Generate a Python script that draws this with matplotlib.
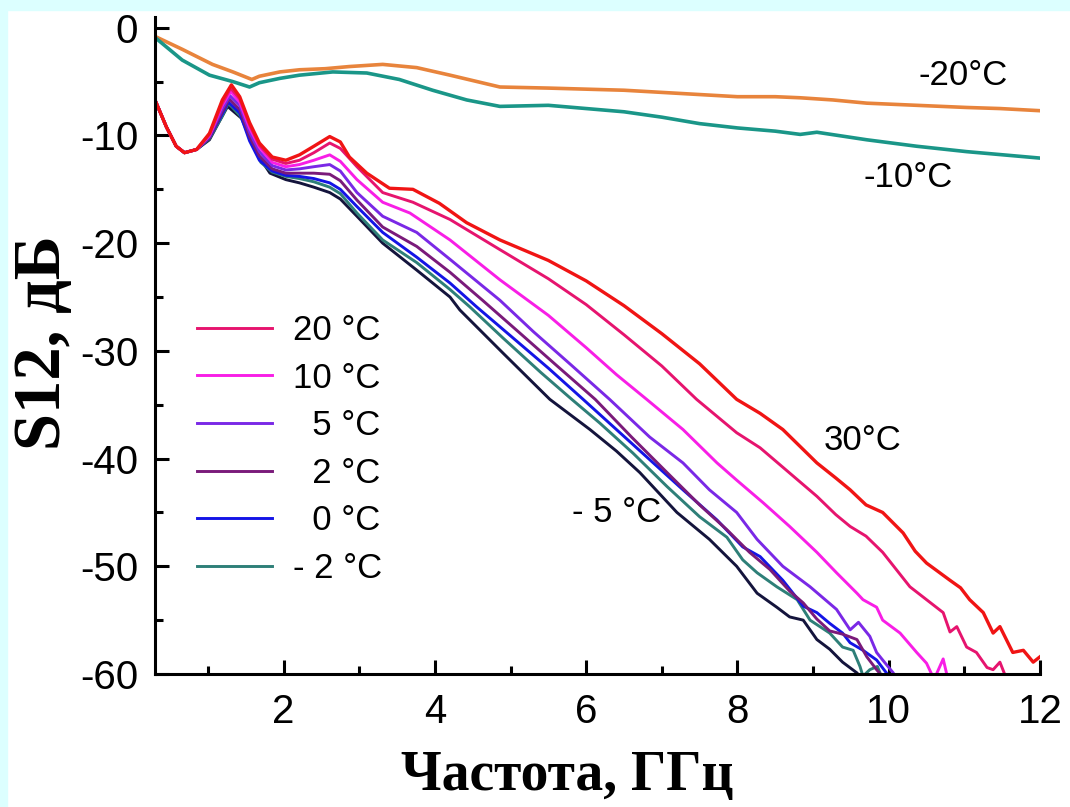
import matplotlib
matplotlib.use("Agg")
import matplotlib.pyplot as plt
from matplotlib.patches import Rectangle
from matplotlib.ticker import MultipleLocator

plt.rcParams['font.family'] = ['Liberation Sans', 'DejaVu Sans']
plt.rcParams['axes.unicode_minus'] = False

# ---- data (GHz, dB) ----
f_m20 = [0.3, 0.66, 1.06, 1.33, 1.58, 1.68, 1.95, 2.21, 2.55, 2.87, 3.31, 3.76, 4.2, 4.86,
         5.5, 6.0, 6.5, 7.0, 7.5, 8.0, 8.5, 8.83, 9.26, 9.71, 10.37, 11.03, 11.47, 12.0]
s_m20 = [-0.8, -2.0, -3.4, -4.1, -4.8, -4.5, -4.1, -3.9, -3.8, -3.6, -3.4, -3.7, -4.4, -5.5,
         -5.6, -5.7, -5.8, -6.0, -6.2, -6.4, -6.4, -6.5, -6.7, -7.0, -7.2, -7.4, -7.5, -7.7]

f_m10 = [0.3, 0.66, 1.02, 1.33, 1.55, 1.68, 1.95, 2.21, 2.65, 3.1, 3.53, 3.97, 4.42, 4.86,
         5.5, 6.0, 6.5, 7.0, 7.5, 8.0, 8.5, 8.83, 9.05, 9.71, 10.37, 11.03, 12.0]
s_m10 = [-0.9, -3.0, -4.4, -5.0, -5.5, -5.1, -4.7, -4.4, -4.1, -4.2, -4.8, -5.8, -6.7, -7.3,
         -7.2, -7.5, -7.8, -8.3, -8.9, -9.3, -9.6, -9.9, -9.7, -10.4, -11.0, -11.5, -12.1]

f_30 = [0.3, 0.45, 0.58, 0.69, 0.85, 1.02, 1.19, 1.31, 1.42, 1.55, 1.68, 1.85, 2.03, 2.21,
        2.4, 2.61, 2.75, 2.87, 3.1, 3.4, 3.71, 4.06, 4.42, 4.86, 5.5, 6.0, 6.5, 7.0, 7.5,
        7.99, 8.3, 8.6, 9.05, 9.3, 9.49, 9.7, 9.92, 10.19, 10.35, 10.5, 10.81, 10.95,
        11.07, 11.25, 11.38, 11.47, 11.64, 11.78, 11.91, 12.0]
s_30 = [-6.7, -9.2, -11.0, -11.6, -11.3, -9.8, -6.7, -5.3, -6.4, -8.8, -10.7, -12.0, -12.3, -11.8,
        -11.0, -10.1, -10.6, -12.0, -13.5, -14.9, -15.0, -16.3, -18.1, -19.7, -21.6, -23.5, -25.8, -28.4, -31.2,
        -34.5, -35.8, -37.3, -40.4, -41.8, -42.9, -44.3, -45.0, -46.9, -48.6, -49.7, -51.3, -52.0,
        -53.1, -54.3, -56.2, -55.6, -58.0, -57.8, -58.9, -58.4]

f_20 = [0.3, 0.45, 0.58, 0.69, 0.85, 1.02, 1.19, 1.30, 1.42, 1.55, 1.68, 1.85, 2.03, 2.21,
        2.4, 2.61, 2.75, 2.97, 3.31, 3.71, 4.2, 4.86, 5.5, 6.0, 6.5, 7.0, 7.46, 7.99, 8.3,
        8.6, 9.05, 9.3, 9.49, 9.7, 9.92, 10.1, 10.28, 10.5, 10.72, 10.81, 10.9, 11.03,
        11.16, 11.3, 11.38, 11.47, 11.56]
s_20 = [-6.7, -9.2, -11.0, -11.6, -11.3, -9.9, -7.0, -5.6, -6.6, -9.0, -10.9, -12.2, -12.6, -12.3,
        -11.6, -10.7, -11.2, -12.9, -15.3, -16.2, -17.8, -20.6, -23.3, -25.7, -28.5, -31.4, -34.5, -37.6, -39.0,
        -40.8, -43.5, -45.2, -46.3, -47.2, -48.7, -50.3, -51.9, -53.1, -54.3, -56.1, -55.6, -57.5,
        -58.0, -59.4, -59.6, -58.9, -60.5]

f_10 = [0.3, 0.45, 0.58, 0.69, 0.85, 1.02, 1.19, 1.30, 1.42, 1.55, 1.68, 1.85, 2.03, 2.21,
        2.4, 2.61, 2.75, 2.97, 3.31, 3.67, 4.2, 4.86, 5.5, 6.0, 6.4, 6.8, 7.28, 7.73, 7.99,
        8.34, 8.69, 9.05, 9.31, 9.58, 9.66, 9.84, 9.92, 10.15, 10.37, 10.5, 10.6, 10.72, 10.8]
s_10 = [-6.7, -9.2, -11.0, -11.6, -11.3, -10.0, -7.2, -5.9, -6.9, -9.3, -11.1, -12.5, -12.9, -12.7,
        -12.3, -11.8, -12.4, -14.1, -16.2, -17.2, -19.7, -23.4, -26.7, -29.7, -32.2, -34.5, -37.3, -40.4, -42.0,
        -44.1, -46.3, -48.7, -50.6, -52.5, -53.1, -53.8, -55.0, -56.2, -58.0, -59.0, -60.5, -58.6, -61.0]

f_5 = [0.3, 0.45, 0.58, 0.69, 0.85, 1.02, 1.19, 1.29, 1.42, 1.55, 1.68, 1.85, 2.03, 2.21,
       2.4, 2.61, 2.75, 2.97, 3.31, 3.76, 4.2, 4.86, 5.3, 5.8, 6.31, 6.84, 7.28, 7.63, 7.99,
       8.26, 8.6, 8.96, 9.31, 9.49, 9.6, 9.75, 9.84, 9.92, 10.06, 10.15]
s_5 = [-6.7, -9.2, -11.0, -11.6, -11.3, -10.1, -7.5, -6.3, -7.2, -9.7, -11.5, -12.8, -13.2, -13.1,
       -12.9, -12.7, -13.3, -15.3, -17.5, -19.0, -21.5, -25.3, -28.2, -31.3, -34.5, -38.0, -40.4, -42.9, -45.0,
       -47.5, -50.0, -51.9, -54.0, -55.9, -55.2, -56.5, -58.0, -58.7, -59.9, -61.0]

f_2 = [0.3, 0.45, 0.58, 0.69, 0.85, 1.02, 1.19, 1.28, 1.42, 1.55, 1.68, 1.85, 2.03, 2.21,
       2.4, 2.61, 2.75, 2.97, 3.31, 3.76, 4.2, 4.63, 5.1, 5.6, 6.12, 6.6, 7.07, 7.5, 7.86,
       8.16, 8.43, 8.69, 8.87, 9.05, 9.22, 9.39, 9.58, 9.71, 9.84, 9.95]
s_2 = [-6.7, -9.2, -11.0, -11.6, -11.3, -10.2, -7.8, -6.6, -7.6, -10.1, -11.9, -13.1, -13.5, -13.5,
       -13.5, -13.6, -14.2, -16.0, -18.5, -20.3, -22.7, -25.3, -28.2, -31.3, -34.5, -38.0, -41.3, -44.3, -46.6,
       -48.7, -50.3, -52.3, -53.4, -54.9, -56.0, -56.3, -56.8, -58.4, -59.6, -60.5]

f_0 = [0.3, 0.45, 0.58, 0.69, 0.85, 1.02, 1.19, 1.27, 1.42, 1.55, 1.68, 1.85, 2.03, 2.21,
       2.4, 2.61, 2.75, 2.97, 3.31, 3.76, 4.2, 4.55, 5.0, 5.5, 5.96, 6.4, 6.84, 7.28, 7.73,
       8.07, 8.3, 8.6, 8.87, 9.05, 9.22, 9.39, 9.49, 9.66, 9.84, 9.97, 10.05]
s_0 = [-6.7, -9.2, -11.0, -11.6, -11.3, -10.2, -8.0, -6.9, -7.9, -10.5, -12.3, -13.3, -13.7, -13.8,
       -14.0, -14.4, -15.0, -16.6, -19.0, -21.3, -23.7, -25.9, -28.6, -31.6, -34.5, -37.3, -40.1, -42.9, -45.7,
       -48.2, -49.1, -51.3, -53.7, -54.3, -55.3, -56.2, -57.1, -57.8, -58.7, -59.9, -60.5]

f_m2 = [0.3, 0.45, 0.58, 0.69, 0.85, 1.02, 1.19, 1.27, 1.43, 1.6, 1.7, 1.85, 2.03, 2.21,
        2.4, 2.61, 2.75, 2.97, 3.31, 3.76, 4.2, 4.46, 4.9, 5.4, 5.81, 6.18, 6.62, 7.07, 7.5,
        7.86, 8.07, 8.26, 8.52, 8.79, 8.96, 9.09, 9.22, 9.39, 9.53, 9.62, 9.66, 9.75, 9.85, 9.92]
s_m2 = [-6.7, -9.2, -11.0, -11.6, -11.3, -10.3, -8.2, -7.0, -8.2, -11.0, -12.5, -13.4, -13.8, -14.0,
        -14.3, -14.8, -15.4, -17.2, -19.7, -21.8, -24.3, -25.9, -28.8, -32.0, -34.5, -36.7, -39.5, -42.6, -45.4,
        -47.3, -49.4, -50.6, -51.9, -53.1, -55.0, -55.6, -56.2, -57.5, -57.8, -59.3, -60.2, -59.6, -59.3, -60.5]

f_m5 = [0.3, 0.45, 0.58, 0.69, 0.85, 1.02, 1.15, 1.26, 1.46, 1.64, 1.82, 2.03, 2.21, 2.4,
        2.61, 2.75, 2.97, 3.31, 3.76, 4.2, 4.33, 4.9, 5.52, 6.05, 6.4, 6.71, 7.2, 7.63, 7.99,
        8.26, 8.52, 8.69, 8.87, 9.05, 9.22, 9.39, 9.58, 9.65]
s_m5 = [-6.7, -9.2, -11.0, -11.6, -11.3, -10.4, -8.7, -7.3, -8.5, -11.6, -13.5, -14.1, -14.4, -14.8,
        -15.3, -15.9, -17.5, -20.0, -22.5, -25.0, -26.2, -30.2, -34.5, -37.3, -39.3, -41.3, -45.0, -47.5, -50.0,
        -52.5, -53.8, -54.7, -55.0, -56.8, -57.7, -58.9, -59.9, -60.5]

# ---- figure ----
fig = plt.figure(figsize=(10.7, 8.07), dpi=100, facecolor='white')
cyan = '#dcffff'
fig.patches.append(Rectangle((0, 0), 7 / 1070, 1, transform=fig.transFigure, color=cyan, zorder=-10))
fig.patches.append(Rectangle((0, 1 - 10 / 807), 1, 10 / 807, transform=fig.transFigure, color=cyan, zorder=-10))

ax = fig.add_axes([155 / 1070, 1 - 674 / 807, (1040 - 155) / 1070, (674 - 17) / 807])

ax.plot(f_m20, s_m20, color='#e8843c', lw=2.6)
ax.plot(f_m10, s_m10, color='#1a9688', lw=2.6)

lw = 2.1
ax.plot(f_m5, s_m5, color='#14143c', lw=lw)
ax.plot(f_m2, s_m2, color='#2e7f78', lw=lw, label='- 2 °C')
ax.plot(f_0, s_0, color='#1414e6', lw=lw, label='  0 °C')
ax.plot(f_2, s_2, color='#7a1a7a', lw=lw, label='  2 °C')
ax.plot(f_5, s_5, color='#7a28e6', lw=lw, label='  5 °C')
ax.plot(f_10, s_10, color='#f81ee6', lw=lw, label='10 °C')
ax.plot(f_20, s_20, color='#e6146e', lw=lw, label='20 °C')
ax.plot(f_30, s_30, color='#f01414', lw=2.4)

txt = dict(fontsize=25, ha='center', va='center')
ax.text(10.98, -4.4, '-20°C', **txt)
ax.text(10.25, -13.9, '-10°C', **txt)
ax.text(9.66, -38.3, '30°C', **txt)
ax.text(6.4, -45.0, '- 5 °C', **txt)

handles, labels = ax.get_legend_handles_labels()
ax.legend(handles[::-1], labels[::-1], loc='upper left', bbox_to_anchor=(0.048, 0.548),
          frameon=False, fontsize=25, handlelength=2.16, handletextpad=0.58,
          labelspacing=0.42, borderpad=0, borderaxespad=0)

ax.set_xlim(0.3, 12)
ax.set_ylim(-60, 1)
ax.set_xticks([2, 4, 6, 8, 10, 12])
ax.set_xticks([1, 3, 5, 7, 9, 11], minor=True)
ax.yaxis.set_major_locator(MultipleLocator(10))
ax.yaxis.set_minor_locator(MultipleLocator(5))

for side in ['top', 'right']:
    ax.spines[side].set_visible(False)
for side in ['left', 'bottom']:
    ax.spines[side].set_linewidth(2.2)

ax.tick_params(which='major', direction='in', length=10, width=2.2, labelsize=29, pad=12)
ax.tick_params(which='minor', direction='in', length=6, width=2.2)
ax.tick_params(axis='x', which='major', pad=14)

ax.set_xlabel('Частота, ГГц', family='Liberation Serif', fontweight='bold', fontsize=40, va='baseline')
ax.xaxis.set_label_coords((567 - 155) / 885, (674 - 790) / 657)
ax.set_ylabel('S12, дБ', family='Liberation Serif', fontweight='bold', fontsize=48, va='baseline')
ax.yaxis.set_label_coords((60 - 155) / 885, (674 - 343) / 657)

fig.savefig('out.png', dpi=100, facecolor=fig.get_facecolor())
